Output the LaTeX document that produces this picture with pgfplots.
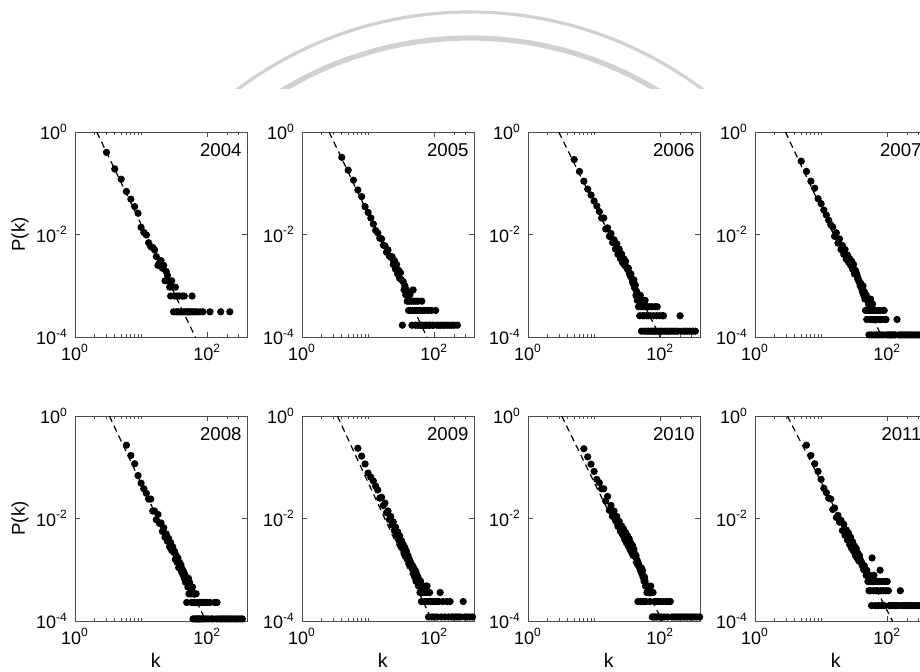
\documentclass[border=0pt]{standalone}
\usepackage{pgfplots}
\usepackage{pgfplotstable}
\pgfplotsset{compat=1.18}
\usepackage{fontspec}
\setmainfont{Liberation Sans}

% degree distributions P(k), one table per year
\pgfplotstableread[row sep=\\]{k p\\
3 0.40\\ 4 0.19\\ 5 0.12\\ 6 0.069\\ 7 0.049\\ 8 0.035\\ 9 0.026\\ 10 0.0138\\ 11 0.011\\ 12 0.0098\\
13 0.0069\\ 14 0.0058\\ 15 0.0056\\ 16 0.0050\\ 17 0.0037\\ 18 0.0025\\ 19 0.0028\\ 20 0.0031\\ 21 0.0022\\ 22 0.0025\\
23 0.00125\\ 24 0.0019\\ 25 0.0016\\ 26 0.00125\\ 27 0.00094\\ 28 0.00063\\ 29 0.00125\\ 30 0.00094\\ 31 0.00031\\ 32 0.00063\\
33 0.00094\\ 34 0.00031\\ 35 0.00063\\ 36 0.00031\\ 38 0.00063\\ 39 0.00031\\ 41 0.00031\\ 42 0.00063\\ 44 0.00031\\ 45 0.00063\\
47 0.00031\\ 50 0.00031\\ 53 0.00031\\ 56 0.00031\\ 59 0.00063\\ 60 0.00031\\ 65 0.00031\\ 70 0.00031\\ 78 0.00031\\ 86 0.00031\\
110 0.00031\\ 160 0.00031\\ 220 0.00031\\
}\dA
\pgfplotstableread[row sep=\\]{k p\\
4 0.32\\ 5 0.18\\ 6 0.115\\ 7 0.074\\ 8 0.055\\ 9 0.035\\ 10 0.027\\ 11 0.021\\ 12 0.016\\ 13 0.012\\ 14 0.0108\\
15 0.0085\\ 16 0.0082\\ 17 0.0062\\ 18 0.0060\\ 19 0.0045\\ 20 0.0050\\ 21 0.0038\\ 22 0.0036\\ 23 0.0037\\ 24 0.0026\\
25 0.0031\\ 26 0.0021\\ 27 0.0026\\ 28 0.0017\\ 29 0.0020\\ 30 0.0014\\ 31 0.0018\\ 32 0.0013\\ 33 0.00017\\ 34 0.0012\\
35 0.00083\\ 36 0.0010\\ 37 0.00067\\ 38 0.00083\\ 39 0.00050\\ 40 0.00067\\ 41 0.00033\\ 42 0.00050\\ 43 0.00067\\ 44 0.00033\\
45 0.00050\\ 46 0.00017\\ 47 0.00033\\ 48 0.00083\\ 49 0.00050\\ 50 0.00033\\ 52 0.00017\\ 53 0.00050\\ 54 0.00033\\ 56 0.00017\\
57 0.00050\\ 58 0.00033\\ 60 0.00017\\ 62 0.00033\\ 63 0.00017\\ 65 0.00050\\ 66 0.00017\\ 68 0.00033\\ 70 0.00017\\ 72 0.00033\\
74 0.00017\\ 77 0.00017\\ 80 0.00033\\ 83 0.00017\\ 86 0.00017\\ 90 0.00033\\ 94 0.00017\\ 98 0.00017\\ 105 0.00033\\ 110 0.00017\\
118 0.00017\\ 126 0.00017\\ 135 0.00017\\ 145 0.00017\\ 158 0.00017\\ 170 0.00017\\ 185 0.00017\\ 200 0.00017\\ 224 0.00017\\
}\dB
\pgfplotstableread[row sep=\\]{k p\\
5 0.29\\ 6 0.17\\ 7 0.11\\ 8 0.077\\ 9 0.059\\ 10 0.045\\ 11 0.036\\ 12 0.028\\ 13 0.021\\ 14 0.021\\
15 0.0128\\ 16 0.0135\\ 17 0.0092\\ 18 0.0105\\ 19 0.0070\\ 20 0.0079\\ 21 0.0052\\ 22 0.0066\\ 23 0.0041\\ 24 0.0052\\
25 0.0034\\ 26 0.0042\\ 27 0.0028\\ 28 0.0034\\ 29 0.0025\\ 30 0.0030\\ 31 0.0023\\ 32 0.0021\\ 33 0.0022\\ 34 0.0018\\
35 0.0016\\ 36 0.0017\\ 37 0.0014\\ 38 0.0012\\ 39 0.0011\\ 40 0.0013\\ 41 0.00091\\ 42 0.00104\\ 43 0.00065\\ 44 0.00078\\
45 0.00052\\ 46 0.00065\\ 47 0.00039\\ 48 0.00052\\ 49 0.00026\\ 50 0.00065\\ 51 0.00039\\ 52 0.00013\\ 53 0.00052\\ 54 0.00026\\
55 0.00039\\ 56 0.00052\\ 57 0.00026\\ 58 0.00013\\ 59 0.00052\\ 60 0.00039\\ 62 0.00026\\ 63 0.00013\\ 64 0.00039\\ 66 0.00026\\
67 0.00013\\ 69 0.00039\\ 71 0.00026\\ 72 0.00013\\ 75 0.00039\\ 77 0.00013\\ 79 0.00026\\ 81 0.00013\\ 84 0.00039\\ 86 0.00013\\
88 0.00026\\ 90 0.00039\\ 93 0.00013\\ 97 0.00026\\ 100 0.00013\\ 105 0.00013\\ 107 0.00026\\ 112 0.00026\\ 115 0.00013\\ 125 0.00013\\
135 0.00013\\ 145 0.00013\\ 157 0.00013\\ 170 0.00013\\ 185 0.00013\\ 200 0.00026\\ 215 0.00013\\ 235 0.00013\\ 255 0.00013\\ 280 0.00013\\
310 0.00013\\ 340 0.00013\\
}\dC
\pgfplotstableread[row sep=\\]{k p\\
5 0.27\\ 6 0.17\\ 7 0.11\\ 8 0.080\\ 9 0.050\\ 10 0.040\\ 11 0.030\\ 12 0.024\\ 13 0.019\\ 14 0.0155\\
15 0.0140\\ 16 0.0092\\ 17 0.0108\\ 18 0.0068\\ 19 0.0082\\ 20 0.0051\\ 21 0.0061\\ 22 0.0041\\ 23 0.0051\\ 24 0.0033\\
25 0.0040\\ 26 0.0029\\ 27 0.0034\\ 28 0.0025\\ 29 0.0030\\ 30 0.0021\\ 31 0.0026\\ 32 0.0017\\ 33 0.0020\\ 34 0.0018\\
35 0.0016\\ 36 0.0014\\ 37 0.0013\\ 38 0.0012\\ 39 0.00099\\ 40 0.0011\\ 41 0.00088\\ 42 0.00077\\ 43 0.00099\\ 44 0.00066\\
45 0.00077\\ 46 0.00055\\ 47 0.00033\\ 48 0.00066\\ 49 0.00022\\ 50 0.00055\\ 51 0.00033\\ 52 0.00044\\ 53 0.00011\\ 54 0.00033\\
55 0.00022\\ 56 0.00055\\ 57 0.00033\\ 58 0.00011\\ 59 0.00022\\ 60 0.00044\\ 61 0.00033\\ 63 0.00022\\ 64 0.00011\\ 66 0.00033\\
68 0.00022\\ 69 0.00011\\ 71 0.00033\\ 73 0.00022\\ 75 0.00011\\ 77 0.00033\\ 79 0.00022\\ 81 0.00011\\ 84 0.00022\\ 86 0.00033\\
88 0.00011\\ 90 0.00033\\ 93 0.00022\\ 96 0.00022\\ 98 0.00011\\ 104 0.00011\\ 110 0.00011\\ 117 0.00011\\ 124 0.00011\\ 132 0.00011\\
141 0.00022\\ 150 0.00011\\ 160 0.00011\\ 172 0.00011\\ 185 0.00011\\ 200 0.00011\\ 215 0.00011\\ 232 0.00011\\ 250 0.00011\\ 270 0.00011\\
295 0.00011\\ 320 0.00011\\ 350 0.00011\\ 380 0.00011\\
}\dD
\pgfplotstableread[row sep=\\]{k p\\
6 0.27\\ 7 0.17\\ 8 0.117\\ 9 0.069\\ 10 0.049\\ 11 0.038\\ 12 0.031\\ 13 0.024\\ 14 0.024\\ 15 0.014\\
16 0.014\\ 17 0.0095\\ 18 0.012\\ 19 0.0080\\ 20 0.0082\\ 21 0.0056\\ 22 0.0066\\ 23 0.0043\\ 24 0.0050\\ 25 0.0036\\
26 0.0041\\ 27 0.0028\\ 28 0.0034\\ 29 0.0024\\ 30 0.0028\\ 31 0.0022\\ 32 0.0023\\ 33 0.0016\\ 34 0.0019\\ 35 0.0014\\
36 0.0017\\ 37 0.0011\\ 38 0.0014\\ 39 0.00114\\ 40 0.00125\\ 41 0.00091\\ 42 0.00103\\ 43 0.00080\\ 44 0.00091\\ 45 0.00068\\
46 0.00080\\ 47 0.00057\\ 48 0.00068\\ 49 0.00023\\ 50 0.00057\\ 51 0.00046\\ 52 0.00068\\ 53 0.00034\\ 54 0.00057\\ 55 0.00046\\
56 0.00034\\ 57 0.00046\\ 58 0.00023\\ 59 0.00034\\ 60 0.00046\\ 61 0.00011\\ 62 0.00034\\ 63 0.00023\\ 64 0.00034\\ 65 0.00011\\
66 0.00023\\ 68 0.00034\\ 69 0.00011\\ 70 0.00023\\ 72 0.00011\\ 73 0.00023\\ 75 0.00011\\ 77 0.00023\\ 79 0.00011\\ 81 0.00023\\
84 0.00011\\ 86 0.00023\\ 89 0.00011\\ 92 0.00023\\ 96 0.00011\\ 100 0.00023\\ 104 0.00011\\ 110 0.00023\\ 115 0.00011\\ 122 0.00011\\
130 0.00023\\ 137 0.00011\\ 141 0.00023\\ 150 0.00011\\ 160 0.00011\\ 172 0.00011\\ 185 0.00011\\ 198 0.00011\\ 213 0.00011\\ 230 0.00011\\
248 0.00011\\ 268 0.00011\\ 290 0.00011\\ 315 0.00011\\ 340 0.00011\\
}\dE
\pgfplotstableread[row sep=\\]{k p\\
7 0.235\\ 8 0.165\\ 9 0.116\\ 10 0.077\\ 11 0.064\\ 12 0.054\\ 13 0.043\\ 14 0.036\\ 15 0.025\\ 16 0.026\\
17 0.018\\ 18 0.020\\ 19 0.013\\ 20 0.014\\ 21 0.0095\\ 22 0.011\\ 23 0.0075\\ 24 0.0086\\ 25 0.0058\\ 26 0.0068\\
27 0.0047\\ 28 0.0055\\ 29 0.0038\\ 30 0.0046\\ 31 0.0031\\ 32 0.0037\\ 33 0.0026\\ 34 0.0031\\ 35 0.0022\\ 36 0.0027\\
37 0.0019\\ 38 0.0023\\ 39 0.0016\\ 40 0.0019\\ 41 0.0017\\ 42 0.0014\\ 43 0.0015\\ 44 0.0012\\ 45 0.0013\\ 46 0.00108\\
47 0.0012\\ 48 0.00096\\ 49 0.00108\\ 50 0.00084\\ 51 0.00072\\ 52 0.00096\\ 53 0.00060\\ 54 0.00084\\ 55 0.00072\\ 56 0.00060\\
57 0.00072\\ 58 0.00048\\ 59 0.00060\\ 60 0.00048\\ 61 0.00036\\ 62 0.00060\\ 63 0.00048\\ 64 0.00024\\ 65 0.00048\\ 66 0.00036\\
68 0.00048\\ 70 0.00036\\ 72 0.00024\\ 74 0.00048\\ 76 0.00036\\ 78 0.00048\\ 80 0.00024\\ 82 0.00012\\ 85 0.00036\\ 88 0.00024\\
92 0.00012\\ 96 0.00024\\ 100 0.00012\\ 105 0.00024\\ 110 0.00012\\ 116 0.00024\\ 123 0.00036\\ 128 0.00012\\ 135 0.00024\\ 145 0.00012\\
155 0.00024\\ 165 0.00012\\ 174 0.00024\\ 185 0.00012\\ 200 0.00012\\ 215 0.00012\\ 232 0.00012\\ 250 0.00012\\ 275 0.00024\\ 290 0.00012\\
315 0.00012\\ 345 0.00012\\ 380 0.00012\\
}\dF
\pgfplotstableread[row sep=\\]{k p\\
7 0.23\\ 8 0.16\\ 9 0.115\\ 10 0.083\\ 11 0.058\\ 12 0.050\\ 13 0.038\\ 14 0.038\\ 15 0.022\\ 16 0.027\\
17 0.0145\\ 18 0.018\\ 19 0.011\\ 20 0.014\\ 21 0.0092\\ 22 0.011\\ 23 0.0070\\ 24 0.0088\\ 25 0.0056\\ 26 0.0072\\
27 0.0048\\ 28 0.0062\\ 29 0.0039\\ 30 0.0053\\ 31 0.0033\\ 32 0.0046\\ 33 0.0029\\ 34 0.0040\\ 35 0.0025\\ 36 0.0033\\
37 0.0022\\ 38 0.0030\\ 39 0.0019\\ 40 0.0025\\ 41 0.0021\\ 42 0.0018\\ 43 0.0019\\ 44 0.0016\\ 45 0.0015\\ 46 0.00024\\
47 0.0013\\ 48 0.0012\\ 49 0.00108\\ 50 0.0010\\ 51 0.00024\\ 52 0.00108\\ 53 0.00084\\ 54 0.00096\\ 55 0.00072\\ 56 0.00024\\
57 0.00060\\ 58 0.00072\\ 59 0.00060\\ 60 0.00048\\ 61 0.00024\\ 62 0.00048\\ 63 0.00036\\ 64 0.00048\\ 65 0.00036\\ 66 0.00048\\
68 0.00036\\ 70 0.00024\\ 72 0.00048\\ 74 0.00036\\ 76 0.00012\\ 78 0.00036\\ 80 0.00012\\ 82 0.00024\\ 84 0.00012\\ 86 0.00024\\
89 0.00012\\ 92 0.00024\\ 96 0.00012\\ 100 0.00024\\ 105 0.00012\\ 110 0.00024\\ 115 0.00012\\ 122 0.00024\\ 128 0.00012\\ 135 0.00024\\
142 0.00024\\ 150 0.00012\\ 162 0.00012\\ 175 0.00012\\ 190 0.00012\\ 205 0.00012\\ 222 0.00012\\ 240 0.00012\\ 260 0.00012\\ 282 0.00012\\
305 0.00012\\ 330 0.00012\\ 360 0.00012\\ 395 0.00012\\
}\dG
\pgfplotstableread[row sep=\\]{k p\\
6 0.27\\ 7 0.17\\ 8 0.117\\ 9 0.083\\ 10 0.058\\ 11 0.039\\ 12 0.032\\ 13 0.025\\ 14 0.024\\
15 0.015\\ 16 0.016\\ 17 0.0105\\ 18 0.0115\\ 19 0.0085\\ 20 0.0092\\ 21 0.0058\\ 22 0.0077\\ 23 0.0047\\ 24 0.0060\\
25 0.0038\\ 26 0.0052\\ 27 0.0031\\ 28 0.0043\\ 29 0.0026\\ 30 0.0035\\ 31 0.0023\\ 32 0.0029\\ 33 0.0019\\ 34 0.0026\\
35 0.0017\\ 36 0.0021\\ 37 0.0015\\ 38 0.0019\\ 39 0.0016\\ 40 0.0014\\ 41 0.0014\\ 42 0.0012\\ 43 0.0012\\ 44 0.0010\\
45 0.0012\\ 46 0.00098\\ 47 0.00098\\ 48 0.00078\\ 49 0.00098\\ 50 0.00078\\ 51 0.00059\\ 52 0.00078\\ 53 0.00039\\ 54 0.00059\\
55 0.00078\\ 56 0.00039\\ 57 0.00059\\ 58 0.00020\\ 59 0.0017\\ 60 0.00059\\ 62 0.00039\\ 63 0.00078\\ 65 0.00059\\ 66 0.00020\\
68 0.00039\\ 70 0.00059\\ 72 0.00039\\ 74 0.00020\\ 76 0.00059\\ 78 0.00098\\ 80 0.00039\\ 82 0.00020\\ 84 0.00059\\ 87 0.00039\\
90 0.00020\\ 93 0.00059\\ 96 0.00039\\ 100 0.00059\\ 104 0.00039\\ 108 0.00020\\ 115 0.00020\\ 122 0.00020\\ 130 0.00020\\ 140 0.00020\\
150 0.00020\\ 158 0.00039\\ 168 0.00020\\ 180 0.00020\\ 195 0.00020\\ 210 0.00020\\ 228 0.00020\\ 248 0.00020\\ 270 0.00020\\ 295 0.00020\\
320 0.00020\\ 350 0.00020\\ 385 0.00020\\
}\dH

% shared look of all eight log-log panels
\pgfplotsset{
  scale only axis, width=86pt, height=102.5pt,
  xmin=1, xmax=400, ymin=1e-4, ymax=1,
  xtick={1,100}, xticklabels={10\textsuperscript{0},10\textsuperscript{2}},
  minor xtick={2,3,4,5,6,7,8,9,10,200,300},
  ytick={1e-4,1e-2,1},
  yticklabels={10\textsuperscript{-4},10\textsuperscript{-2},10\textsuperscript{0}},
  tick align=inside,
  major tick length=2.5pt, minor tick length=1.6pt,
  every tick/.style={black!70, line width=0.45pt},
  every axis/.append style={line width=0.5pt},
  axis line style={black!70},
  tick label style={font=\fontsize{9}{10}\selectfont},
}
\tikzset{
  yr/.style={anchor=north east, inner sep=0pt, xshift=-2.5pt, yshift=-5.5pt,
    font=\fontsize{9.3}{10}\selectfont},
  ylab/.style={rotate=90, font=\fontsize{9.3}{10}\selectfont},
  xlab/.style={font=\fontsize{9.8}{10}\selectfont},
  degpts/.style={only marks, mark=*, mark size=1.55pt, black, mark options={fill=black}},
  degfit/.style={black, line width=0.6pt, dash pattern=on 3.2pt off 2.2pt},
}
\newcommand{\ylabP}{\node[ylab] at (rel axis cs:-0.32,0.5) {P(k)};}
\newcommand{\xlabK}{\node[xlab] at (rel axis cs:0.47,-0.19) {k};}

\begin{document}
\begin{tikzpicture}
% seal watermark at the top of the page
\begin{scope}[x=0.5pt,y=-0.5pt]
  \clip (0,0) rectangle (920,88);
  \draw[black!18, line width=1.6pt] (470,400) circle[radius=388];
  \draw[black!18, line width=2.6pt] (470,400) circle[radius=362];
\end{scope}

% ---- first row: 2004 to 2007 ----
\begin{loglogaxis}[at={(37.5pt,-168.5pt)}, anchor=south west,
    after end axis/.code={\ylabP}]
  \addplot[degpts] table[x=k,y=p] {\dA};
  \addplot[degfit] coordinates {(2.138,1) (66.07,1e-4)};
  \node[yr] at (rel axis cs:1,1) {2004};
\end{loglogaxis}
\begin{loglogaxis}[at={(151pt,-168.5pt)}, anchor=south west]
  \addplot[degpts] table[x=k,y=p] {\dB};
  \addplot[degfit] coordinates {(2.570,1) (77.6,1e-4)};
  \node[yr] at (rel axis cs:1,1) {2005};
\end{loglogaxis}
\begin{loglogaxis}[at={(264pt,-168.5pt)}, anchor=south west]
  \addplot[degpts] table[x=k,y=p] {\dC};
  \addplot[degfit] coordinates {(2.917,1) (100,1e-4)};
  \node[yr] at (rel axis cs:1,1) {2006};
\end{loglogaxis}
\begin{loglogaxis}[at={(377.5pt,-168.5pt)}, anchor=south west]
  \addplot[degpts] table[x=k,y=p] {\dD};
  \addplot[degfit] coordinates {(2.884,1) (83.2,1e-4)};
  \node[yr] at (rel axis cs:1,1) {2007};
\end{loglogaxis}

% ---- second row: 2008 to 2011 ----
\begin{loglogaxis}[at={(37.5pt,-310.5pt)}, anchor=south west,
    after end axis/.code={\ylabP\xlabK}]
  \addplot[degpts] table[x=k,y=p] {\dE};
  \addplot[degfit] coordinates {(3.311,1) (95.5,1e-4)};
  \node[yr] at (rel axis cs:1,1) {2008};
\end{loglogaxis}
\begin{loglogaxis}[at={(151pt,-310.5pt)}, anchor=south west,
    after end axis/.code={\xlabK}]
  \addplot[degpts] table[x=k,y=p] {\dF};
  \addplot[degfit] coordinates {(3.428,1) (93.3,1e-4)};
  \node[yr] at (rel axis cs:1,1) {2009};
\end{loglogaxis}
\begin{loglogaxis}[at={(264pt,-310.5pt)}, anchor=south west,
    after end axis/.code={\xlabK}]
  \addplot[degpts] table[x=k,y=p] {\dG};
  \addplot[degfit] coordinates {(3.236,1) (107.2,1e-4)};
  \node[yr] at (rel axis cs:1,1) {2010};
\end{loglogaxis}
\begin{loglogaxis}[at={(377.5pt,-310.5pt)}, anchor=south west,
    after end axis/.code={\xlabK}]
  \addplot[degpts] table[x=k,y=p] {\dH};
  \addplot[degfit] coordinates {(3.090,1) (120.2,1e-4)};
  \node[yr] at (rel axis cs:1,1) {2011};
\end{loglogaxis}

\pgfresetboundingbox
\useasboundingbox (0pt,0pt) rectangle (460pt,-335.5pt);
\end{tikzpicture}
\end{document}
